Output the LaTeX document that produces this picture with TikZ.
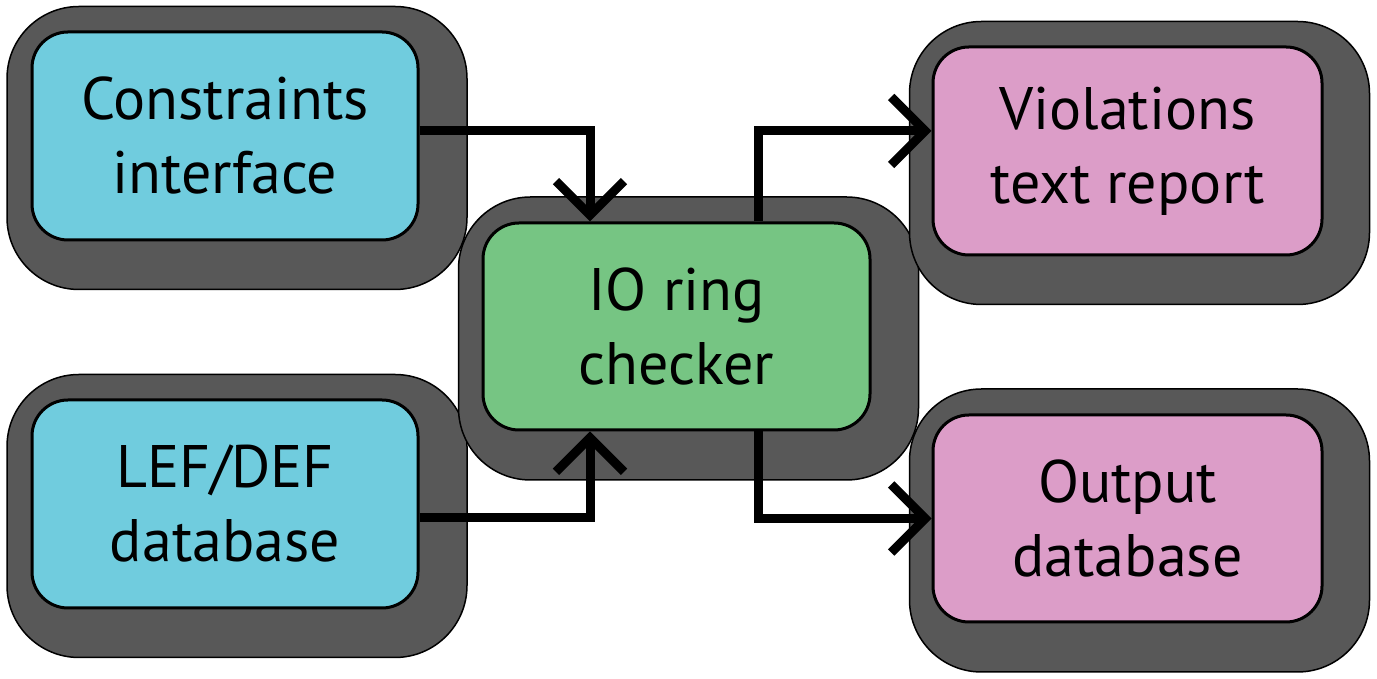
\documentclass[tikz,border=0pt]{standalone}
\usepackage{fontspec}
\setmainfont{PT Sans}
\usepackage{tikz}
\usetikzlibrary{arrows.meta,positioning}
\definecolor{incol}{HTML}{70CCDE}
\definecolor{chkcol}{HTML}{76C583}
\definecolor{outcol}{HTML}{DC9DC8}
\definecolor{framecol}{HTML}{585858}

\begin{document}
\begin{tikzpicture}[x=1pt,y=1pt,
  frame/.style={rectangle,rounded corners=72pt,draw=black,line width=1.5pt,fill=framecol,minimum width=460pt,minimum height=283pt},
  blk/.style={rectangle,rounded corners=36pt,draw=black,line width=3pt,minimum width=386pt,minimum height=208pt,inner sep=0pt,align=center,font=\fontsize{60}{74}\selectfont},
  flow/.style={-{Straight Barb[length=34pt,width=68pt]},line width=9pt}
]
\useasboundingbox (0,0) rectangle (1377,679);
% shadow frames
\node[frame] (consf) at (237,531) {};
\node[frame] (lef f) at (237,163) {};
\node[frame] (chkf) at (688.5,340.5) {};
\node[frame] (violf) at (1139.5,516) {};
\node[frame] (outdbf) at (1139.5,148.5) {};
% blocks
\node[blk,fill=incol] (cons) at (225,543) {Constraints\\interface};
\node[blk,fill=incol] (lef) at (225,175) {LEF/DEF\\database};
\node[blk,fill=chkcol,minimum width=387pt,minimum height=207pt] (chk) at (676.5,352.5) {IO ring\\checker};
\node[blk,fill=outcol,minimum width=389pt] (viol) at (1127.5,528) {Violations\\text report};
\node[blk,fill=outcol,minimum width=389pt,minimum height=207pt] (outdb) at (1127.5,160.5) {Output\\database};
% connectors
\draw[flow] ([yshift=5pt]cons.east) -| ([xshift=-86.5pt]chk.north);
\draw[flow] ([yshift=-14pt]lef.east) -| ([xshift=-86.5pt]chk.south);
\draw[flow] ([xshift=81.5pt]chk.north) |- ([yshift=20pt]viol.west);
\draw[flow] ([xshift=81.5pt]chk.south) |- (outdb.west);
\end{tikzpicture}
\end{document}
